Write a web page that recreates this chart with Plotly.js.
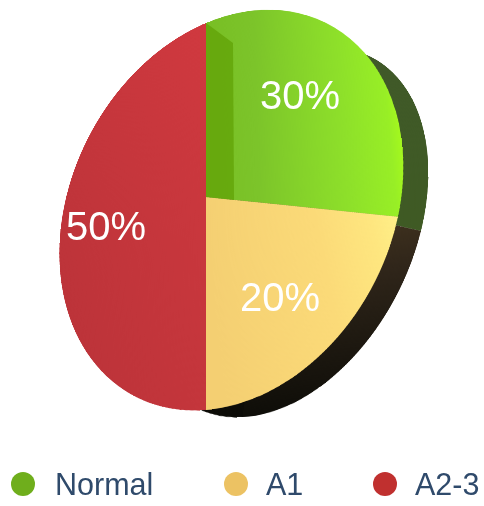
<!DOCTYPE html>
<html>
<head>
<meta charset="utf-8">
<script src="https://cdn.plot.ly/plotly-3.0.1.min.js"></script>
<style>
  html, body { margin: 0; padding: 0; background: #fff; width: 484px; height: 506px; overflow: hidden; }
  .layer { position: absolute; left: 0; top: 0; transform-origin: 0 0; }
</style>
</head>
<body>
<div id="sideDisc" class="layer"></div>
<div id="faceDisc" class="layer"></div>
<div id="overlay" class="layer"></div>
<script>
// Chart data
const categories = ['Normal', 'A1', 'A2-3'];
const shares = [30, 20, 50];
const markerColors = ['#6fae1c', '#ecc263', '#c0302f'];

// Face and side shading of each slice: [x1, y1, x2, y2, stops]
const faceShades = [
  [0, 0, 1, 0, [[0, '#78be24'], [0.3, '#7cc42a'], [0.75, '#8ee02a'], [0.95, '#98ee26'], [1, '#a4f81e']]],
  [0, 0.25, 1, 0.1, [[0, '#f4cf72'], [0.6, '#fbda78'], [0.85, '#fee67f'], [1, '#fff28a']]],
  [0, 1, 1, 0, [[0, '#b83238'], [1, '#d0393f']]]
];
const sideShades = [
  [0, 0, 0, 1, [[0, '#40592a'], [1, '#3f5a24']]],
  [0, 0, 0, 1, [[0, '#4e3c22'], [0.45, '#30261a'], [1, '#0e0d08']]],
  [0, 0, 0, 1, [[0, '#2a2a14'], [1, '#0c0b07']]]
];

// Overlay positions, in page pixels
const labelSpots = [[300, 95], [280, 297], [106, 226]];
const legendDotX = [23, 236, 385];
const legendTextX = [55, 266, 415];
const legendY = 484;
const innerFold = [[206, 23], [233, 43], [234, 200], [206, 197]];

const R = 400;                    // radius of the disc before projection
const faceProjection = { a: 137.2, b: -20.76, c: 206, d: -73.9, e: 171.68, f: 197, g: -0.1467, h: -0.1008 };

// Rim angles (degrees clockwise from 12 o'clock) and where they land for the disc's side wall
const sideRim = [[35, 367, 55], [108, 421, 231], [150, 335, 375], [185, 228, 417]];

// Projective map of the unit disc through four rim correspondences
function rimProjection(pairs) {
  const A = [];
  pairs.forEach(([deg, X, Y]) => {
    const t = deg * Math.PI / 180, x = Math.sin(t), y = -Math.cos(t);
    A.push([x, y, 1, 0, 0, 0, -x * X, -y * X, X]);
    A.push([0, 0, 0, x, y, 1, -x * Y, -y * Y, Y]);
  });
  for (let i = 0; i < 8; i++) {
    let best = i;
    for (let r = i + 1; r < 8; r++) if (Math.abs(A[r][i]) > Math.abs(A[best][i])) best = r;
    [A[i], A[best]] = [A[best], A[i]];
    for (let r = 0; r < 8; r++) {
      if (r === i) continue;
      const k = A[r][i] / A[i][i];
      for (let c = i; c < 9; c++) A[r][c] -= k * A[i][c];
    }
  }
  const s = A.map((row, i) => row[8] / row[i]);
  return { a: s[0], b: s[1], c: s[2], d: s[3], e: s[4], f: s[5], g: s[6], h: s[7] };
}

// CSS matrix3d for a projective map of the unit disc onto the page
function projective(p) {
  const m = [p.a / R, p.d / R, 0, p.g / R,
             p.b / R, p.e / R, 0, p.h / R,
             0, 0, 1, 0,
             p.c - p.a - p.b, p.f - p.d - p.e, 0, 1 - p.g - p.h];
  return 'matrix3d(' + m.join(',') + ')';
}

// Swaps the flat slice fills for gradients
function shadeSlices(el, shades, prefix) {
  const svg = el.querySelector('svg.main-svg');
  const NS = 'http://www.w3.org/2000/svg';
  const defs = document.createElementNS(NS, 'defs');
  shades.forEach((s, i) => {
    const g = document.createElementNS(NS, 'linearGradient');
    g.setAttribute('id', prefix + i);
    ['x1', 'y1', 'x2', 'y2'].forEach((k, n) => g.setAttribute(k, s[n]));
    s[4].forEach(st => {
      const stop = document.createElementNS(NS, 'stop');
      stop.setAttribute('offset', st[0]);
      stop.setAttribute('stop-color', st[1]);
      g.appendChild(stop);
    });
    defs.appendChild(g);
  });
  svg.insertBefore(defs, svg.firstChild);
  el.querySelectorAll('g.slice path.surface').forEach((path, i) => {
    path.style.fill = 'url(#' + prefix + i + ')';
    path.style.strokeWidth = '0';
  });
}

function drawDisc(id, shades, prefix, projection) {
  const el = document.getElementById(id);
  el.style.transform = projective(projection);
  return Plotly.newPlot(el, [{
    type: 'pie',
    labels: categories,
    values: shares,
    sort: false,
    direction: 'clockwise',
    rotation: 0,
    textinfo: 'none',
    hoverinfo: 'none',
    marker: { colors: markerColors, line: { width: 0 } },
    domain: { x: [0, 1], y: [0, 1] }
  }], {
    width: 2 * R, height: 2 * R,
    margin: { l: 0, r: 0, t: 0, b: 0 },
    paper_bgcolor: 'rgba(0,0,0,0)',
    showlegend: false
  }, { staticPlot: true, displayModeBar: false }).then(() => shadeSlices(el, shades, prefix));
}

drawDisc('sideDisc', sideShades, 'side', rimProjection(sideRim));
drawDisc('faceDisc', faceShades, 'face', faceProjection);

// Value labels, legend dots and legend text sit flat above the projected disc
const valueNotes = shares.map((v, i) => ({
  x: labelSpots[i][0], y: labelSpots[i][1], text: v + '%',
  showarrow: false, xanchor: 'center', yanchor: 'middle',
  font: { family: 'Liberation Sans, Arial, sans-serif', size: 40, color: '#ffffff' }
}));
const legendNotes = categories.map((c, i) => ({
  x: legendTextX[i], y: legendY, text: c,
  showarrow: false, xanchor: 'left', yanchor: 'middle', xshift: -2,
  font: { family: 'Liberation Sans, Arial, sans-serif', size: 30.5, color: '#2f4a6b' }
}));

Plotly.newPlot('overlay', [{
  type: 'scatter',
  mode: 'markers',
  x: legendDotX,
  y: categories.map(() => legendY),
  marker: { size: 24, color: markerColors, line: { width: 0 } },
  hoverinfo: 'none',
  showlegend: false,
  cliponaxis: false
}], {
  width: 484, height: 506,
  margin: { l: 0, r: 0, t: 0, b: 0 },
  paper_bgcolor: 'rgba(0,0,0,0)',
  plot_bgcolor: 'rgba(0,0,0,0)',
  showlegend: false,
  xaxis: { range: [0, 484], visible: false, fixedrange: true },
  yaxis: { range: [506, 0], visible: false, fixedrange: true },
  shapes: [{
    type: 'path', xref: 'x', yref: 'y', layer: 'below',
    path: innerFold.map((p, i) => (i ? 'L' : 'M') + p[0] + ',' + p[1]).join(' ') + ' Z',
    fillcolor: 'rgba(96,160,4,0.7)',
    line: { width: 0 }
  }],
  annotations: valueNotes.concat(legendNotes)
}, { staticPlot: true, displayModeBar: false });
</script>
</body>
</html>
